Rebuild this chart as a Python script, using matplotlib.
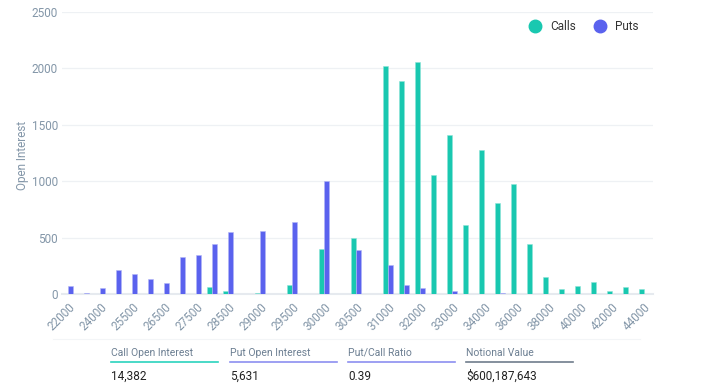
import numpy as np
import matplotlib
matplotlib.use("Agg")
from matplotlib import pyplot as plt
from matplotlib.lines import Line2D

plt.rcParams['font.family'] = ['Roboto', 'DejaVu Sans']

# strikes (every other one is labelled on the axis)
strikes = ['22000', '23000', '24000', '25000', '25500', '26000', '26500', '27000',
           '27500', '28000', '28500', '28750', '29000', '29250', '29500', '29750',
           '30000', '30250', '30500', '30750', '31000', '31500', '32000', '32500',
           '33000', '33500', '34000', '35000', '36000', '37000', '38000', '39000',
           '40000', '41000', '42000', '43000', '44000']
calls = [0, 0, 0, 0, 0, 0, 0, 0,
         0, 59, 26, 0, 12, 0, 79, 0,
         400, 0, 495, 0, 2018, 1891, 2053, 1056,
         1408, 615, 1281, 808, 973, 447, 151, 44,
         71, 106, 30, 62, 44]
puts = [70, 9, 53, 212, 176, 129, 100, 326,
        344, 441, 550, 0, 559, 0, 635, 0,
        1006, 0, 390, 0, 254, 80, 53, 0,
        30, 0, 0, 9, 0, 0, 0, 0,
        0, 0, 0, 0, 0]

stat_titles = ['Call Open Interest', 'Put Open Interest', 'Put/Call Ratio', 'Notional Value']
stat_values = ['14,382', '5,631', '0.39', '$600,187,643']
stat_colors = ['#2ad3bd', '#8c8ff0', '#8c8ff0', '#6f7d8c']

call_color = '#19c8b0'
put_color = '#5a62ee'
tick_color = '#8396a8'

W, H = 711, 388
fig = plt.figure(figsize=(W / 100, H / 100), dpi=100)
ax = fig.add_axes([62 / W, 1 - 294 / H, (653 - 62) / W, (294 - 12) / H])

x = np.arange(len(strikes))
w = 0.31
ax.bar(x - w / 2, calls, width=w, color=call_color, edgecolor='#8ee4d8', linewidth=0.4, zorder=3)
ax.bar(x + w / 2, puts, width=w, color=put_color, edgecolor='#b3b6f7', linewidth=0.4, zorder=3)

ax.set_xlim(-0.39, 36.55)
ax.set_ylim(0, 2500)
ax.set_yticks([0, 500, 1000, 1500, 2000, 2500])
ax.grid(axis='y', color='#eef1f4', linewidth=0.9, zorder=0)
ax.set_xticks(x[::2])
ax.set_xticklabels(strikes[::2], rotation=45, ha='right', va='top', rotation_mode='anchor')
ax.tick_params(axis='x', length=0, pad=5, labelsize=8.5, labelcolor=tick_color)
ax.tick_params(axis='y', length=0, pad=3, labelsize=8.5, labelcolor=tick_color)
for s in ['top', 'right', 'left']:
    ax.spines[s].set_visible(False)
ax.spines['bottom'].set_color('#e6eaef')
ax.spines['bottom'].set_linewidth(1.5)
ax.set_ylabel('Open Interest', color=tick_color, fontsize=8.5)
ax.yaxis.set_label_coords((29 - 62) / 591, 0.49)

# legend
handles = [Line2D([], [], marker='o', linestyle='', markersize=9, color=call_color),
           Line2D([], [], marker='o', linestyle='', markersize=9, color=put_color)]
fig.legend(handles, ['Calls', 'Puts'], loc='center', bbox_to_anchor=(581 / W, 1 - 27 / H),
           ncol=2, frameon=False, fontsize=8.5, handletextpad=0.3, columnspacing=1.0,
           labelcolor='#333333')

# faint separator under the chart
fig.add_artist(Line2D([53 / W, 640 / W], [1 - 339 / H, 1 - 339 / H], color='#f3f5f7', linewidth=0.8))

# stats row
col_x = [111, 230, 348, 466]
for cx, t, v, c in zip(col_x, stat_titles, stat_values, stat_colors):
    fig.text(cx / W, 1 - 353 / H, t, fontsize=7.5, color='#6c7f92', va='center')
    fig.add_artist(Line2D([cx / W, (cx + 107) / W], [1 - 362 / H, 1 - 362 / H], color=c, linewidth=1.2))
    fig.text(cx / W, 1 - 376 / H, v, fontsize=8.5, color='#222222', va='center')

fig.savefig('out.png', dpi=100)
